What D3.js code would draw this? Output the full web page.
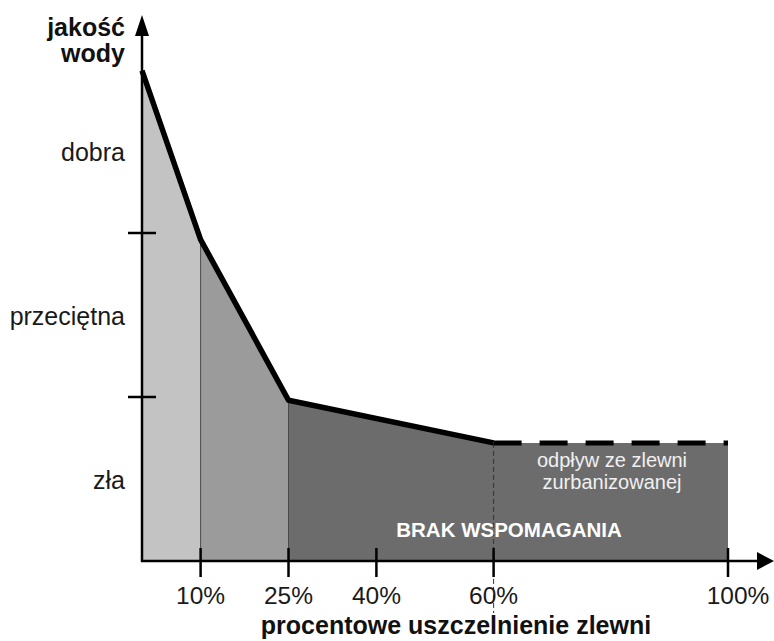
<!DOCTYPE html>
<html>
<head>
<meta charset="utf-8">
<script src="https://cdn.jsdelivr.net/npm/d3@7"></script>
<style>
  html, body { margin: 0; padding: 0; background: #fff; }
  svg { display: block; font-family: "Liberation Sans", Arial, sans-serif; }
</style>
</head>
<body>
<svg id="chart" width="774" height="641"></svg>
<script>
// ---- data ----
const sealingPct = [0, 10, 25, 60, 100];          // % of catchment sealed
const waterQuality = [2.99, 1.96, 0.98, 0.72, 0.72]; // quality index (0 = bad .. 3 = good)
const xTickValues = [10, 25, 40, 60, 100];
const xTickLabels = ["10%", "25%", "40%", "60%", "100%"];
const qualityBounds = [1, 2];
const qualityClassCenters = [0.5, 1.5, 2.5];
const qualityClassLabels = ["zła", "przeciętna", "dobra"];
const zoneStarts = [0, 10, 25];
const zoneEnds = [10, 25, 100];
const zoneFills = ["#c3c3c3", "#9b9b9b", "#6c6c6c"];
const measuredUntil = 60; // solid line until, dashed afterwards
const yTitleLines = ["jakość", "wody"];
const xTitle = "procentowe uszczelnienie zlewni";
const noteLines = ["odpływ ze zlewni", "zurbanizowanej"];
const zoneNote = "BRAK WSPOMAGANIA";

const svg = d3.select("#chart");
const x = d3.scaleLinear().domain([0, 100]).range([142, 728]);
const y = d3.scaleLinear().domain([0, 3]).range([561, 69]);

const pts = sealingPct.map((p, i) => ({ p, q: waterQuality[i] }));

// zones (filled areas)
const area = d3.area().x(d => x(d.p)).y0(y(0)).y1(d => y(d.q));
zoneStarts.forEach((a, i) => {
  const b = zoneEnds[i];
  const seg = pts.filter(d => d.p >= a && d.p <= b);
  svg.append("path").attr("d", area(seg)).attr("fill", zoneFills[i]);
});

// thin separators at zone boundaries
const interp = p => {
  for (let i = 0; i < pts.length - 1; i++) {
    if (p >= pts[i].p && p <= pts[i + 1].p) {
      const t = (p - pts[i].p) / (pts[i + 1].p - pts[i].p);
      return pts[i].q + t * (pts[i + 1].q - pts[i].q);
    }
  }
  return pts[pts.length - 1].q;
};
[10, 25].forEach(p => {
  svg.append("line")
    .attr("x1", x(p)).attr("x2", x(p))
    .attr("y1", y(interp(p))).attr("y2", y(0))
    .attr("stroke", "#4a4a4a").attr("stroke-width", 1);
});
// dashed separator at 60%
svg.append("line")
  .attr("x1", x(measuredUntil)).attr("x2", x(measuredUntil))
  .attr("y1", y(interp(measuredUntil))).attr("y2", 613)
  .attr("stroke", "#333").attr("stroke-width", 1)
  .attr("stroke-dasharray", "5,3");

// curve
const line = d3.line().x(d => x(d.p)).y(d => y(d.q));
svg.append("path")
  .attr("d", line(pts.filter(d => d.p <= measuredUntil)))
  .attr("fill", "none").attr("stroke", "#000").attr("stroke-width", 5.5)
  .attr("stroke-linejoin", "round");
svg.append("path")
  .attr("d", line(pts.filter(d => d.p >= measuredUntil)))
  .attr("fill", "none").attr("stroke", "#000").attr("stroke-width", 5)
  .attr("stroke-dasharray", "28,18");

// axes
const axisG = svg.append("g").attr("stroke", "#000").attr("stroke-width", 2.5);
axisG.append("line").attr("x1", x(0)).attr("x2", x(0)).attr("y1", y(0) + 1).attr("y2", 30);
axisG.append("line").attr("x1", x(0) - 1).attr("x2", 762).attr("y1", y(0)).attr("y2", y(0));
svg.append("path").attr("d", `M${x(0)},15 L${x(0) - 7},36 L${x(0) + 7},36 Z`).attr("fill", "#000");
svg.append("path").attr("d", `M774,${y(0)} L757,${y(0) - 9} L757,${y(0) + 9} Z`).attr("fill", "#000");

// y ticks (class boundaries)
qualityBounds.forEach(v => {
  axisG.append("line").attr("x1", x(0) - 14).attr("x2", x(0) + 14)
    .attr("y1", y(v)).attr("y2", y(v));
});
// x ticks
xTickValues.forEach(v => {
  axisG.append("line").attr("x1", x(v)).attr("x2", x(v))
    .attr("y1", y(0) - 13).attr("y2", y(0) + 16);
});

// y class labels
svg.selectAll(".ylab").data(qualityClassCenters).enter().append("text")
  .attr("x", 125).attr("y", d => y(d) + 10)
  .attr("text-anchor", "end").attr("font-size", 25).attr("fill", "#1a1a1a")
  .text((d, i) => qualityClassLabels[i]);

// x tick labels
svg.selectAll(".xlab").data(xTickValues).enter().append("text")
  .attr("x", (d, i) => x(d) + (i === xTickValues.length - 1 ? 10 : 0))
  .attr("y", 604)
  .attr("text-anchor", "middle").attr("font-size", 24.5).attr("fill", "#1a1a1a")
  .text((d, i) => xTickLabels[i]);

// axis titles
svg.selectAll(".ytitle").data(yTitleLines).enter().append("text")
  .attr("x", 125).attr("y", (d, i) => 36 + i * 26)
  .attr("text-anchor", "end").attr("font-size", 25).attr("font-weight", "bold").attr("fill", "#111")
  .text(d => d);
svg.append("text")
  .attr("x", 456).attr("y", 634)
  .attr("text-anchor", "middle").attr("font-size", 25).attr("font-weight", "bold").attr("fill", "#111")
  .text(xTitle);

// notes inside the dark zone
svg.selectAll(".note").data(noteLines).enter().append("text")
  .attr("x", 612).attr("y", (d, i) => 467 + i * 22)
  .attr("text-anchor", "middle").attr("font-size", 20).attr("fill", "#f0f0f0")
  .text(d => d);
svg.append("text")
  .attr("x", 509).attr("y", 537)
  .attr("text-anchor", "middle").attr("font-size", 20.5).attr("font-weight", "bold").attr("fill", "#fff")
  .text(zoneNote);
</script>
</body>
</html>
